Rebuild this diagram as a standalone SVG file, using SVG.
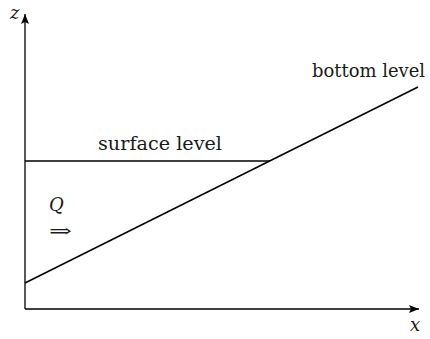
<svg xmlns="http://www.w3.org/2000/svg" width="430" height="339" viewBox="0 0 430 339">
<style>
.ln{stroke:#000;stroke-width:1.5;fill:none}
.ax{stroke:#000;stroke-width:1.3;fill:none}
.t{font-family:'DejaVu Serif', serif;font-size:18px;fill:#1a1a1a}
.i{font-style:italic}
</style>
<defs>
<marker id="ah" viewBox="0 0 10 8" refX="10" refY="4" markerWidth="10" markerHeight="8" markerUnits="userSpaceOnUse" orient="auto">
<path d="M0,0 L10,4 L0,8 L2,4 Z" fill="#000"/>
</marker>
</defs>
<g id="connectors">
<line class="ax" x1="25" y1="309" x2="25" y2="14" marker-end="url(#ah)"/>
<line class="ax" x1="25" y1="309" x2="419" y2="309" marker-end="url(#ah)"/>
<line class="ln" x1="25" y1="283" x2="418" y2="87"/>
<line class="ln" x1="25" y1="161" x2="270" y2="161"/>
</g>
<g id="z-label"><text class="t i" x="10" y="19">z</text></g>
<g id="x-label"><text class="t i" x="410" y="331">x</text></g>
<g id="bottom-level"><text class="t" x="312" y="77" textLength="113" lengthAdjust="spacingAndGlyphs">bottom level</text></g>
<g id="surface-level"><text class="t" x="98" y="150" textLength="124" lengthAdjust="spacingAndGlyphs">surface level</text></g>
<g id="Q"><text class="t i" x="49" y="211" font-size="22">Q</text><text class="t" x="49" y="237" font-size="24" textLength="23" lengthAdjust="spacingAndGlyphs">⇒</text></g>
</svg>
